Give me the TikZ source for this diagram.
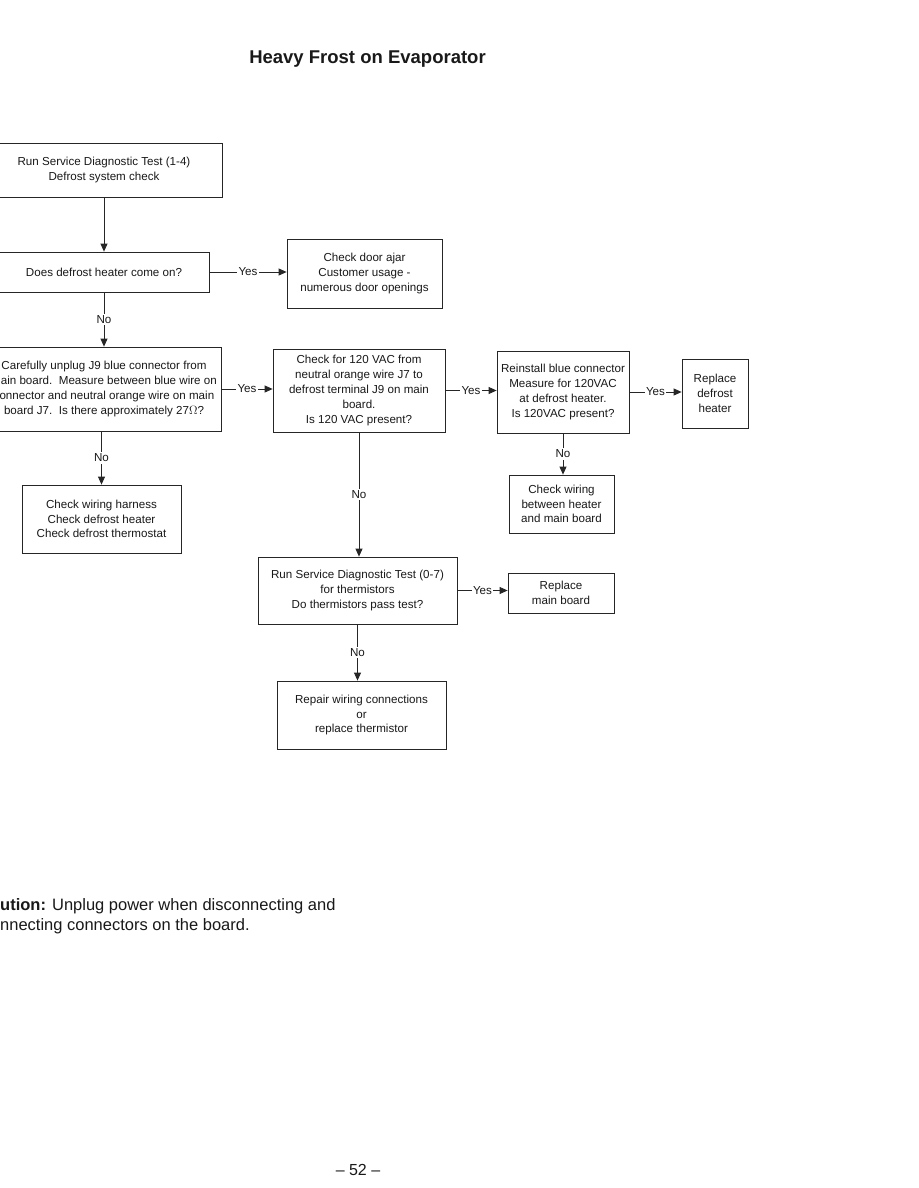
\documentclass[tikz,border=0pt]{standalone}
\usepackage{fontspec}
\setmainfont{Liberation Sans}
\usetikzlibrary{arrows.meta}
\begin{document}
\begin{tikzpicture}[x=1pt,y=-1pt,
  box/.style={draw=black!85, line width=0.8pt, align=center, inner sep=0pt,
    font=\fontsize{11.6}{14.8}\selectfont, text=black!90},
  arr/.style={draw=black!85, line width=0.8pt, -{Triangle[length=8pt,width=7pt]}},
  lbl/.style={fill=white, inner sep=1.5pt, font=\fontsize{11.6}{14}\selectfont, text=black!90}]
\useasboundingbox (0,0) rectangle (918,1188);
\fill[white] (0,0) rectangle (918,1188);

\node[font=\fontsize{18.5}{20}\selectfont\bfseries, text=black!90] (title) at (367.5,59) {Heavy Frost on Evaporator};

\node[box, minimum width=236pt, minimum height=54pt] (A) at (104,170)
  {Run Service Diagnostic Test (1-4)\\Defrost system check};
\node[box, minimum width=210pt, minimum height=40pt] (B) at (104,272)
  {Does defrost heater come on?};
\node[box, minimum width=155pt, minimum height=69pt] (C) at (364.5,273.5)
  {Check door ajar\\Customer usage -\\numerous door openings};
\node[box, minimum width=234pt, minimum height=84pt] (D) at (104,389)
  {Carefully unplug J9 blue connector from\\main board.\ \ Measure between blue wire on\\connector and neutral orange wire on main\\board J7.\ \ Is there approximately 27$\Omega$?};
\node[box, minimum width=172pt, minimum height=83pt] (E) at (359,390.5)
  {Check for 120 VAC from\\neutral orange wire J7 to\\defrost terminal J9 on main\\board.\\Is 120 VAC present?};
\node[box, minimum width=132pt, minimum height=82pt] (F) at (563,392)
  {Reinstall blue connector\\Measure for 120VAC\\at defrost heater.\\Is 120VAC present?};
\node[box, minimum width=66pt, minimum height=69pt] (G) at (715,393.5)
  {Replace\\defrost\\heater};
\node[box, minimum width=105pt, minimum height=58pt] (H) at (561.5,504)
  {Check wiring\\between heater\\and main board};
\node[box, minimum width=159pt, minimum height=68pt] (I) at (101.5,519)
  {Check wiring harness\\Check defrost heater\\Check defrost thermostat};
\node[box, minimum width=199pt, minimum height=67pt] (J) at (357.5,590.5)
  {Run Service Diagnostic Test (0-7)\\for thermistors\\Do thermistors pass test?};
\node[box, minimum width=106pt, minimum height=40pt] (K) at (561,593)
  {Replace\\main board};
\node[box, minimum width=169pt, minimum height=68pt] (L) at (361.5,715)
  {Repair wiring connections\\or\\replace thermistor};

\draw[arr] (A.south) -- (B.north);
\draw[arr] (B.east) -- node[lbl] {Yes} (B.east -| C.west);
\draw[arr] (B.south) -- node[lbl] {No} (D.north);
\draw[arr] (D.east) -- node[lbl] {Yes} (D.east -| E.west);
\draw[arr] (I.north |- D.south) -- node[lbl] {No} (I.north);
\draw[arr] (E.east) -- node[lbl] {Yes} (E.east -| F.west);
\draw[arr] (F.east) -- node[lbl] {Yes} (F.east -| G.west);
\draw[arr] (F.south) -- node[lbl] {No} (F.south |- H.north);
\draw[arr] (E.south) -- node[lbl] {No} (E.south |- J.north);
\draw[arr] (J.east) -- node[lbl] {Yes} (J.east -| K.west);
\draw[arr] (J.south) -- node[lbl] {No} (J.south |- L.north);

\node[anchor=west, align=left, inner sep=0pt, font=\fontsize{16.5}{20}\selectfont, text=black!90] (caution) at (0,916)
  {\textbf{ution:} Unplug power when disconnecting and\\nnecting connectors on the board.};

\node[font=\fontsize{16}{18}\selectfont, text=black!90] (page) at (358,1170) {– 52 –};
\end{tikzpicture}
\end{document}
